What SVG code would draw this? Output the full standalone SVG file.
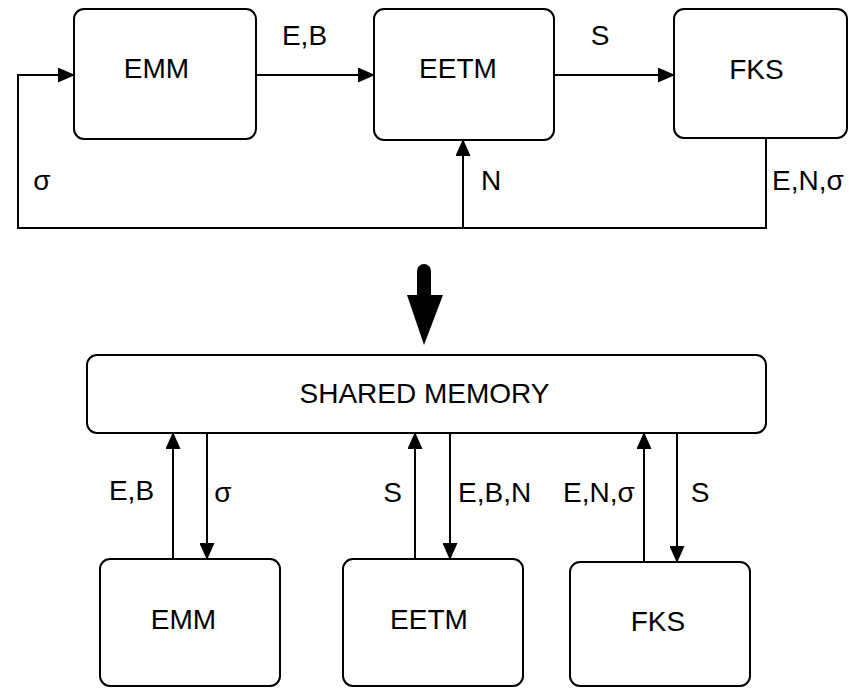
<svg xmlns="http://www.w3.org/2000/svg" width="849" height="688" viewBox="0 0 849 688">
  <defs>
    <marker id="arrow" viewBox="0 0 17 15" refX="16" refY="7.5" markerWidth="17" markerHeight="15" markerUnits="userSpaceOnUse" orient="auto">
      <path d="M0,0 L17,7.5 L0,15 Z" fill="#000"/>
    </marker>
  </defs>
  <style>
    .box { fill: #fff; stroke: #000; stroke-width: 2; }
    .lbl { font-family: "Liberation Sans", Arial, sans-serif; font-size: 28px; fill: #000; }
    .mid { text-anchor: middle; }
    .wire { fill: none; stroke: #000; stroke-width: 2; }
    .arr { marker-end: url(#arrow); }
  </style>
  <rect width="849" height="688" fill="#fff"/>

  <!-- upper pipeline -->
  <g id="emm-top">
    <rect class="box" x="74" y="9" width="182" height="130" rx="10"/>
    <text class="lbl mid" x="156.5" y="78">EMM</text>
  </g>
  <g id="eetm-top">
    <rect class="box" x="374" y="9" width="180" height="131" rx="10"/>
    <text class="lbl mid" x="458" y="78">EETM</text>
  </g>
  <g id="fks-top">
    <rect class="box" x="674" y="9" width="173" height="129" rx="10"/>
    <text class="lbl mid" x="756.5" y="79">FKS</text>
  </g>

  <!-- shared memory layout -->
  <g id="shared-memory">
    <rect class="box" x="87" y="355" width="679" height="78" rx="10"/>
    <text class="lbl mid" x="424.5" y="403">SHARED MEMORY</text>
  </g>
  <g id="emm-bottom">
    <rect class="box" x="100" y="559" width="180" height="127" rx="10"/>
    <text class="lbl mid" x="183.5" y="629">EMM</text>
  </g>
  <g id="eetm-bottom">
    <rect class="box" x="343" y="559" width="180" height="127" rx="10"/>
    <text class="lbl mid" x="429" y="629">EETM</text>
  </g>
  <g id="fks-bottom">
    <rect class="box" x="570" y="562" width="180" height="124" rx="10"/>
    <text class="lbl mid" x="658" y="631">FKS</text>
  </g>

  <g id="connectors">
    <!-- upper flow -->
    <path class="wire arr" d="M256,75 H374"/>
    <path class="wire arr" d="M554,75 H674"/>
    <path class="wire arr" d="M766,139 V228 H18 V75 H74"/>
    <path class="wire arr" d="M463,228 V140"/>
    <text class="lbl mid" x="304.5" y="45">E,B</text>
    <text class="lbl mid" x="600" y="45">S</text>
    <text class="lbl mid" x="491" y="190">N</text>
    <text class="lbl" x="772" y="190">E,N,σ</text>
    <text class="lbl mid" x="42" y="190">σ</text>

    <!-- transition arrow -->
    <path d="M417,295 V271 A7,7 0 0 1 431,271 V295 H443 L424,345 L407,295 Z" fill="#000"/>

    <!-- shared memory exchanges -->
    <path class="wire arr" d="M173,559 V433"/>
    <path class="wire arr" d="M207,432 V559"/>
    <path class="wire arr" d="M415,559 V433"/>
    <path class="wire arr" d="M450,433 V559"/>
    <path class="wire arr" d="M644,562 V433"/>
    <path class="wire arr" d="M677,433 V562"/>
    <text class="lbl mid" x="131.5" y="500">E,B</text>
    <text class="lbl mid" x="223" y="502">σ</text>
    <text class="lbl mid" x="392.5" y="502">S</text>
    <text class="lbl" x="458" y="502">E,B,N</text>
    <text class="lbl" x="563" y="502">E,N,σ</text>
    <text class="lbl mid" x="700" y="502">S</text>
  </g>
</svg>
